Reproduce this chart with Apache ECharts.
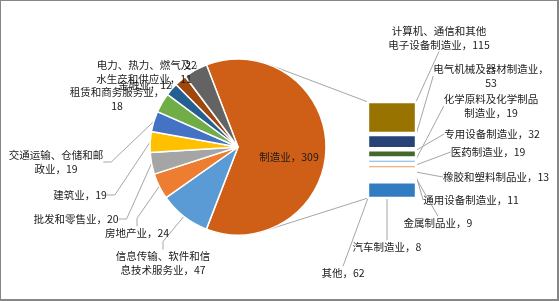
<!DOCTYPE html>
<html>
<head>
<meta charset="utf-8">
<script src="https://cdn.jsdelivr.net/npm/echarts@6/dist/echarts.min.js"></script>
<style>
html,body{margin:0;padding:0;background:#fff;}
#c{width:559px;height:301px;box-sizing:border-box;border:1px solid #868686;border-right-width:2px;border-bottom-width:2px;}
</style>
</head>
<body>
<div id="c"></div>
<script>
// ---- data ----
const pieNames = ['制造业','信息传输、软件和信息技术服务业','房地产业','批发和零售业','建筑业','交通运输、仓储和邮政业','租赁和商务服务业','金融业','电力、热力、燃气及水生产和供应业','其他行业'];
const pieValues = [309, 47, 24, 20, 19, 19, 18, 12, 11, 22];
const barNames = ['计算机、通信和其他电子设备制造业','电气机械及器材制造业','专用设备制造业','化学原料及化学制品制造业','医药制造业','橡胶和塑料制品业','通用设备制造业','金属制品业','汽车制造业','其他'];
const barValues = [115, 53, 32, 19, 19, 13, 11, 9, 8, 62];

// ---- presentation ----
const pieColors = ['#CF5F17','#5B9BD5','#ED7D31','#A5A5A5','#FFC000','#4472C4','#70AD47','#255E91','#9E480E','#636363'];
const barColors = ['#997300','#264478','#43682B','#7CAFDD','#F1975A','#B7B7B7','#FFCD33','#698ED0','#8CC168','#327DC2'];
const pieWrap = [0, 9, 0, 0, 0, 9, 9, 0, 9, 0];
const barWrap = [9, 11, 0, 9, 0, 0, 0, 0, 0, 0];
const pieLabelPos = [[288,156],[162,262],[136,232],[75,218],[79,194],[55,161],[116,98],[144,84],[143,71],[190,64]];
const barLabelPos = [[438,37],[490,75],[491,133],[490,105],[487,151],[495,176],[470,199],[437,222],[386,246],[342,272]];
const CX = 237, CY = 146, R = 88;
const GL = 366, GT = 100, GW = 50, GH = 98;
const FONT = '"Noto Sans CJK SC", "Noto Sans", sans-serif';

function wrapLabel(name, value, n, onlyValue) {
  if (onlyValue) return String(value);
  const s = name + '，' + value;
  return n ? s.slice(0, n) + '\n' + s.slice(n) : s;
}

const chart = echarts.init(document.getElementById('c'), null, {renderer: 'canvas'});

const textStyle = {color: '#1a1a1a', fontSize: 10.5, fontFamily: FONT, lineHeight: 13.5};

const pieData = pieNames.map((n, i) => {
  const d = {name: n, value: pieValues[i], itemStyle: {color: pieColors[i]}};
  if (i === 0) {
    d.label = {position: 'inside'};
    d.labelLine = {show: false};
  }
  return d;
});

const barSeries = barNames.map((n, i) => ({
  type: 'bar',
  name: n,
  stack: 'm',
  xAxisIndex: 0,
  yAxisIndex: 0,
  barWidth: '100%',
  barCategoryGap: 0,
  data: [barValues[i]],
  itemStyle: {color: barColors[i], borderColor: '#fff', borderWidth: 2.2},
  label: Object.assign({show: true, position: 'right', formatter: () => wrapLabel(n, barValues[i], barWrap[i])}, textStyle),
  labelLine: {show: true, lineStyle: {color: '#A6A6A6', width: 1}},
  labelLayout: () => ({x: barLabelPos[i][0], y: barLabelPos[i][1], align: 'center', verticalAlign: 'middle'}),
  animation: false,
  z: 3
}));

chart.setOption({
  backgroundColor: '#fff',
  animation: false,
  grid: {left: GL, top: GT, width: GW, height: GH},
  xAxis: {type: 'category', data: ['制造业细分'], show: false},
  yAxis: {type: 'value', min: 0, max: barValues.reduce((a, b) => a + b, 0), inverse: true, show: false},
  series: [{
    type: 'pie',
    center: [CX, CY],
    radius: R,
    startAngle: 111,
    clockwise: true,
    avoidLabelOverlap: false,
    data: pieData,
    itemStyle: {borderColor: '#fff', borderWidth: 1.5},
    label: Object.assign({
      show: true,
      formatter: p => wrapLabel(p.name, p.value, pieWrap[p.dataIndex], p.dataIndex === 9)
    }, textStyle),
    labelLine: {show: true, length: 8, length2: 8, lineStyle: {color: '#A6A6A6', width: 1}},
    labelLayout: p => ({x: pieLabelPos[p.dataIndex][0], y: pieLabelPos[p.dataIndex][1], align: 'center', verticalAlign: 'middle'}),
    z: 3
  }].concat(barSeries)
});

// series lines from pie to the bar (drawn beneath the pie)
const a1 = 20 * Math.PI / 180, a2 = 160 * Math.PI / 180;
const p1 = [CX + R * Math.sin(a1), CY - R * Math.cos(a1)];
const p2 = [CX + R * Math.sin(a2), CY - R * Math.cos(a2)];
const barTop = chart.convertToPixel({xAxisIndex: 0, yAxisIndex: 0}, [0, 0]);
const barBot = chart.convertToPixel({xAxisIndex: 0, yAxisIndex: 0}, [0, barValues.reduce((a, b) => a + b, 0)]);
const bx = barTop[0] - GW / 2 + 1;
chart.setOption({
  graphic: [
    {type: 'line', z: 1, shape: {x1: p1[0], y1: p1[1], x2: bx, y2: barTop[1] + 1}, style: {stroke: '#A6A6A6', lineWidth: 1}},
    {type: 'line', z: 1, shape: {x1: p2[0], y1: p2[1], x2: bx, y2: barBot[1] - 1}, style: {stroke: '#A6A6A6', lineWidth: 1}}
  ]
});
</script>
</body>
</html>
